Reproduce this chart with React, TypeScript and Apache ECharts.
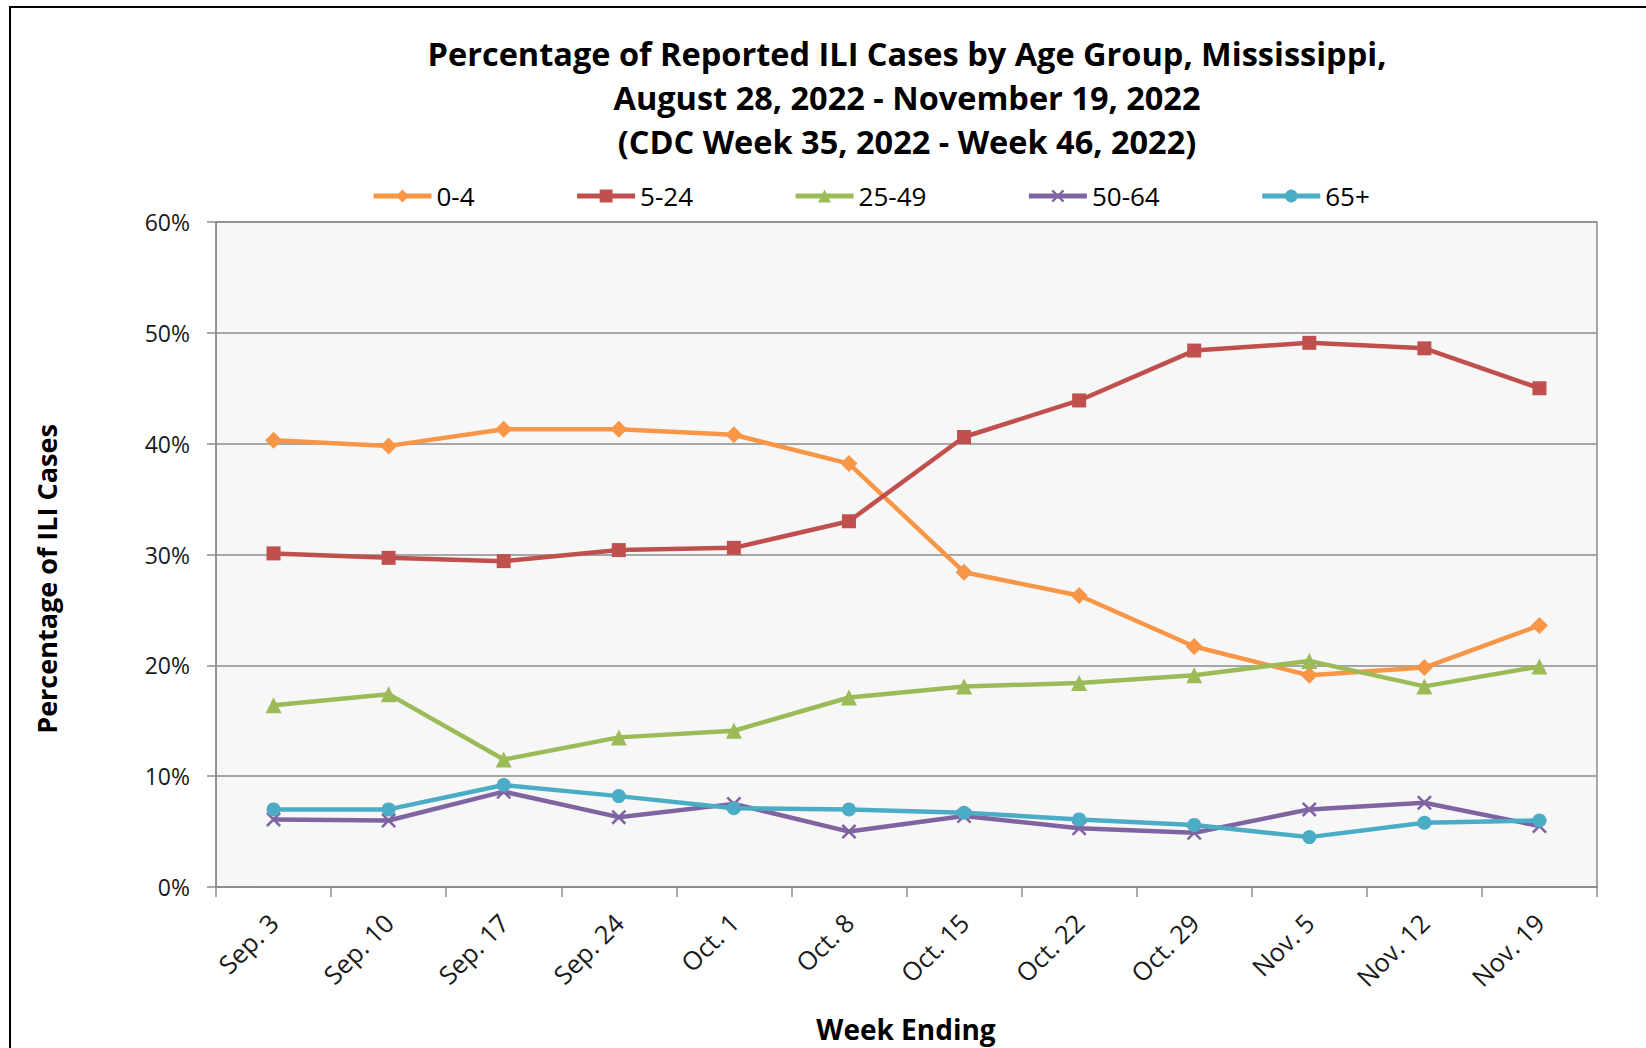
import React, { useEffect, useRef } from "react";
import * as echarts from "echarts";

const weeks = ["Sep. 3", "Sep. 10", "Sep. 17", "Sep. 24", "Oct. 1", "Oct. 8", "Oct. 15", "Oct. 22", "Oct. 29", "Nov. 5", "Nov. 12", "Nov. 19"];
const age0to4 = [40.3, 39.8, 41.3, 41.3, 40.8, 38.2, 28.4, 26.3, 21.7, 19.1, 19.8, 23.6];
const age5to24 = [30.1, 29.7, 29.4, 30.4, 30.6, 33.0, 40.6, 43.9, 48.4, 49.1, 48.6, 45.0];
const age25to49 = [16.4, 17.4, 11.5, 13.5, 14.1, 17.1, 18.1, 18.4, 19.1, 20.4, 18.1, 19.9];
const age50to64 = [6.1, 6.0, 8.6, 6.3, 7.5, 5.0, 6.4, 5.3, 4.9, 7.0, 7.6, 5.5];
const age65plus = [7.0, 7.0, 9.2, 8.2, 7.1, 7.0, 6.7, 6.1, 5.6, 4.5, 5.8, 6.0];
const yTicks = [0, 10, 20, 30, 40, 50, 60];

const FONT = "'Open Sans', 'Noto Sans', sans-serif";
const X_PATH = "path://M0,1.2L1.2,0L10,8.8L8.8,10Z M8.8,0L10,1.2L1.2,10L0,8.8Z";

export default function App() {
  const ref = useRef<HTMLDivElement>(null);
  useEffect(() => {
    if (!ref.current) return;
    const chart = echarts.init(ref.current, null, { renderer: "svg" });
    const mk = (name: string, data: number[], color: string, symbol: string, size: number) => ({
      name,
      type: "line",
      data,
      symbol,
      symbolSize: size,
      showAllSymbol: true,
      lineStyle: { color, width: 4.5 },
      itemStyle: { color },
      emphasis: { disabled: true },
      z: 3,
    });
    chart.setOption({
      animation: false,
      backgroundColor: "#ffffff",
      title: {
        text: "Percentage of Reported ILI Cases by Age Group, Mississippi,\nAugust 28, 2022 - November 19, 2022\n(CDC Week 35, 2022 - Week 46, 2022)",
        left: 902,
        top: 26,
        textAlign: "center",
        textStyle: { fontFamily: FONT, fontWeight: "bold", fontSize: 32.5, lineHeight: 44, color: "#000" },
      },
      legend: {
        left: 366,
        top: 178,
        itemWidth: 58,
        itemHeight: 16,
        itemGap: 100,
        lineStyle: { width: 5 },
        textStyle: { fontFamily: FONT, fontSize: 26, color: "#000" },
        data: ["0-4", "5-24", "25-49", "50-64", "65+"],
      },
      grid: {
        left: 216,
        right: 49,
        top: 222,
        bottom: 161,
        show: true,
        backgroundColor: "#f7f7f7",
        borderColor: "#8c8c8c",
        borderWidth: 1.5,
      },
      xAxis: {
        type: "category",
        data: weeks,
        boundaryGap: true,
        axisLine: { lineStyle: { color: "#8c8c8c", width: 1.5 } },
        axisTick: { show: true, length: 10, lineStyle: { color: "#8c8c8c", width: 1.5 } },
        axisLabel: { rotate: 45, interval: 0, margin: 31, fontFamily: FONT, fontSize: 25.5, color: "#1a1a1a" },
      },
      yAxis: {
        type: "value",
        min: yTicks[0],
        max: yTicks[yTicks.length - 1],
        interval: 10,
        axisLine: { show: true, lineStyle: { color: "#8c8c8c", width: 1.5 } },
        axisTick: { show: true, length: 9, lineStyle: { color: "#8c8c8c", width: 1.5 } },
        axisLabel: { formatter: "{value}%", margin: 26, fontFamily: FONT, fontSize: 23, color: "#1a1a1a" },
        splitLine: { lineStyle: { color: "#8c8c8c", width: 1.5 } },
      },
      series: [
        mk("0-4", age0to4, "#f79646", "diamond", 17),
        mk("5-24", age5to24, "#c0504d", "rect", 14),
        mk("25-49", age25to49, "#9bbb59", "triangle", 16),
        mk("50-64", age50to64, "#8064a2", X_PATH, 15),
        mk("65+", age65plus, "#4bacc6", "circle", 14),
      ],
      graphic: [
        {
          type: "rect",
          shape: { x: 10, y: 7, width: 1645, height: 1100 },
          style: { fill: "none", stroke: "#000", lineWidth: 2 },
          silent: true,
        },
        {
          type: "text",
          x: 46,
          y: 579,
          rotation: Math.PI / 2,
          style: {
            text: "Percentage of ILI Cases",
            fontFamily: FONT,
            fontWeight: "bold",
            fontSize: 27,
            fill: "#000",
            textAlign: "center",
            textVerticalAlign: "middle",
          },
        },
        {
          type: "text",
          x: 906,
          y: 1029,
          style: {
            text: "Week Ending",
            fontFamily: FONT,
            fontWeight: "bold",
            fontSize: 28,
            fill: "#000",
            textAlign: "center",
            textVerticalAlign: "middle",
          },
        },
      ],
    });
    return () => chart.dispose();
  }, []);
  return <div ref={ref} style={{ position: "fixed", left: 0, top: 0, width: 1646, height: 1048 }} />;
}
